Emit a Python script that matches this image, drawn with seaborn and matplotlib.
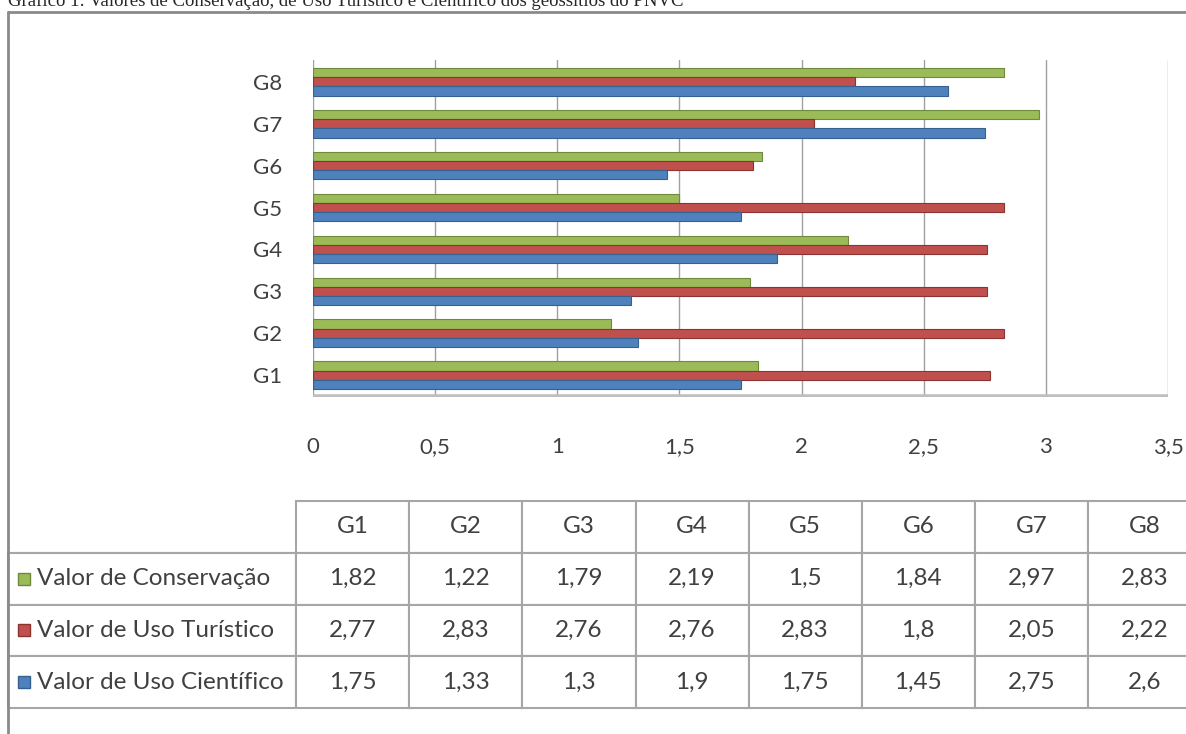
import matplotlib
matplotlib.use("Agg")
import numpy as np
import pandas as pd
import seaborn as sns
from matplotlib import pyplot as plt
from matplotlib.lines import Line2D

geossitios = ["G1", "G2", "G3", "G4", "G5", "G6", "G7", "G8"]
series = ["Valor de Conservação", "Valor de Uso Turístico", "Valor de Uso Científico"]
conservacao = [1.82, 1.22, 1.79, 2.19, 1.5, 1.84, 2.97, 2.83]
turistico = [2.77, 2.83, 2.76, 2.76, 2.83, 1.8, 2.05, 2.22]
cientifico = [1.75, 1.33, 1.3, 1.9, 1.75, 1.45, 2.75, 2.6]
xticks = [0, 0.5, 1, 1.5, 2, 2.5, 3, 3.5]

cores = ["#9BBB59", "#C0504D", "#4F81BD"]
bordas = ["#6E8A3A", "#8C3230", "#35608F"]

W, H = 1186, 734


def px(x0, y0, x1, y1):
    return [x0 / W, 1 - y1 / H, (x1 - x0) / W, (y1 - y0) / H]


def fmt(v):
    return f"{v:g}".replace(".", ",")


df = pd.DataFrame({
    "geo": geossitios * 3,
    "serie": np.repeat(series, len(geossitios)),
    "valor": conservacao + turistico + cientifico,
})

sns.set_style("white")
plt.rcParams["font.family"] = ["Lato", "DejaVu Sans"]

fig = plt.figure(figsize=(W / 100, H / 100), dpi=100)

# moldura
fig.add_artist(Line2D([8 / W, 8 / W], [0, 1 - 12 / H], color="#8A8A8A", lw=2))
fig.add_artist(Line2D([8 / W, 1], [1 - 12 / H, 1 - 12 / H], color="#8A8A8A", lw=2))

fig.text(8 / W, 1 - 6 / H,
         "Gráfico 1: Valores de Conservação, de Uso Turístico e Científico dos geossítios do PNVC",
         family="Liberation Serif", fontsize=13.5, va="baseline", ha="left")

ax = fig.add_axes(px(313, 60, 1168, 397))
sns.barplot(data=df, y="geo", x="valor", hue="serie", order=geossitios[::-1],
            hue_order=series, palette=cores, orient="h", width=0.66,
            saturation=1, legend=False, ax=ax, zorder=3)
for i, cont in enumerate(ax.containers):
    for bar in cont:
        bar.set_edgecolor(bordas[i])
        bar.set_linewidth(0.8)

ax.set_xlim(0, 3.5)
ax.set_ylim(7.52, -0.52)
ax.set_xticks(xticks)
ax.set_xticklabels([fmt(t) for t in xticks])
ax.xaxis.grid(True, color="#A0A0A0", lw=1)
ax.yaxis.grid(False)
for s in ax.spines.values():
    s.set_visible(False)
ax.axhline(7.52, color="#BFBFBF", lw=4, zorder=1)
ax.tick_params(axis="y", length=0, pad=22, labelsize=16, labelcolor="#404040")
ax.tick_params(axis="x", length=0, pad=29, labelsize=16, labelcolor="#404040")
ax.set_xlabel("")
ax.set_ylabel("")

# tabela de dados
tax = fig.add_axes(px(8, 501, 1201, 708))
tax.axis("off")
linhas = [[series[k]] + [fmt(v) for v in vals]
          for k, vals in enumerate([conservacao, turistico, cientifico])]
larg = [288 / 1193] + [113 / 1193] * len(geossitios)
tab = tax.table(cellText=linhas, colLabels=[""] + geossitios, colWidths=larg,
                cellLoc="center", bbox=[0, 0, 1, 1])
tab.auto_set_font_size(False)
tab.set_fontsize(17.5)
for (r, c), cell in tab.get_celld().items():
    cell.set_edgecolor("#A6A6A6")
    cell.set_linewidth(1.5)
    cell.get_text().set_color("#404040")
    if r == 0 and c == 0:
        cell.visible_edges = "B"
    if c == 0 and r > 0:
        cell.get_text().set_ha("left")
        cell._loc = "left"

for k in range(3):
    tax.plot([16 / 1193], [1 - (k + 1.5) / 4], marker="s", markersize=8.5,
             color=cores[k], markeredgecolor=bordas[k], transform=tax.transAxes,
             clip_on=False)

fig.savefig("out.png", dpi=100)
